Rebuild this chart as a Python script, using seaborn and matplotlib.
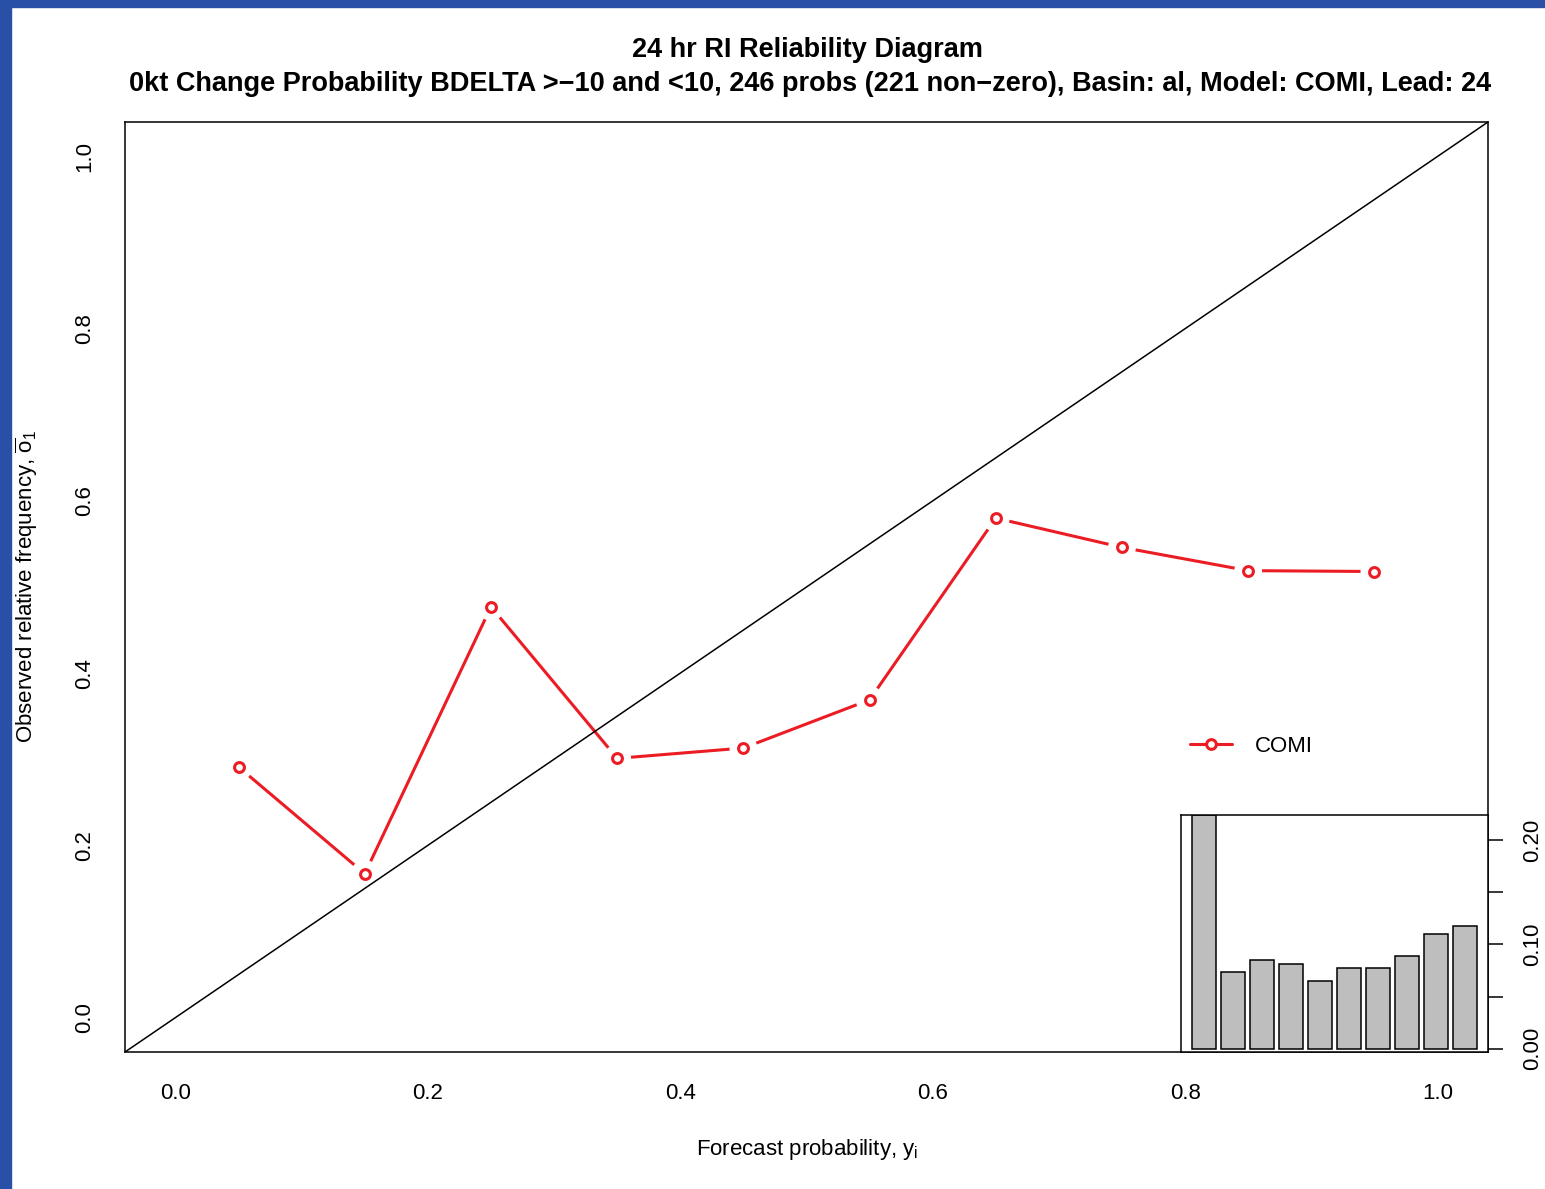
import matplotlib
matplotlib.use("Agg")
import matplotlib.pyplot as plt
import seaborn as sns
import pandas as pd
from matplotlib.lines import Line2D
from matplotlib.patches import Rectangle

# ---- data -----------------------------------------------------------------
fcst_prob = [0.05, 0.15, 0.25, 0.35, 0.45, 0.55, 0.65, 0.75, 0.85, 0.95]
obs_freq = [0.291, 0.167, 0.477, 0.301, 0.313, 0.369, 0.580, 0.546, 0.519, 0.518]
bin_counts = [55, 18, 21, 20, 16, 19, 19, 22, 27, 29]
n_total = 246
main_ticks = [0.0, 0.2, 0.4, 0.6, 0.8, 1.0]
main_tick_labels = ["0.0", "0.2", "0.4", "0.6", "0.8", "1.0"]
hist_ticks = [0.0, 0.05, 0.10, 0.15, 0.20]
hist_tick_labels = ["0.00", "", "0.10", "", "0.20"]
model_name = "COMI"
title_1 = "24 hr RI Reliability Diagram"
title_2 = ("0kt Change Probability BDELTA >\u221210 and <10, 246 probs "
           "(221 non\u2212zero), Basin: al, Model: COMI, Lead: 24")

# ---- style ----------------------------------------------------------------
sns.set_style("white")
plt.rcParams["font.family"] = ["Liberation Sans", "DejaVu Sans"]
plt.rcParams["mathtext.fontset"] = "custom"
plt.rcParams["mathtext.rm"] = "Liberation Sans"
plt.rcParams["mathtext.it"] = "Liberation Sans:italic"
plt.rcParams["axes.linewidth"] = 1.1
plt.rcParams["text.color"] = "black"
plt.rcParams["axes.labelcolor"] = "black"
plt.rcParams["xtick.color"] = "black"
plt.rcParams["ytick.color"] = "black"

RED = "#EC1C24"
GREY = "#BEBEBE"
BLUE = "#2750A6"
FS = 16

W, H = 1545, 1189
fig = plt.figure(figsize=(W / 100, H / 100), dpi=100)


def fx(px):
    return px / W


def fy(py):
    return 1 - py / H


# window border strips
fig.patches.append(Rectangle((0, fy(7)), 1, 7 / H, transform=fig.transFigure,
                             color=BLUE, zorder=10))
fig.patches.append(Rectangle((0, 0), fx(11), 1, transform=fig.transFigure,
                             color=BLUE, zorder=10))

# ---- main reliability axes ------------------------------------------------
ax = fig.add_axes([fx(125), fy(1052), fx(1488) - fx(125), fy(122) - fy(1052)])
ax.set_xlim(-0.04, 1.04)
ax.set_ylim(-0.04, 1.04)

df = pd.DataFrame({"prob": fcst_prob, "obs": obs_freq})
sns.lineplot(data=df, x="prob", y="obs", color=RED, linewidth=2.2,
             sort=False, ax=ax, zorder=2)
# white halos leave gaps in the line around each point
sns.scatterplot(data=df, x="prob", y="obs", s=400, color="white",
                edgecolor="none", ax=ax, zorder=3)
ax.axline((0, 0), (1, 1), color="black", linewidth=1.1, zorder=3.5)
sns.scatterplot(data=df, x="prob", y="obs", s=50, marker="o",
                facecolor="white", edgecolor=RED, linewidth=2.2, ax=ax, zorder=4)

ax.set_xticks(main_ticks)
ax.set_xticklabels(main_tick_labels)
ax.set_yticks(main_ticks)
ax.set_yticklabels(main_tick_labels, rotation=90, va="center")
ax.tick_params(axis="both", direction="out", length=10.5, width=1.1,
               labelsize=FS, color="black", labelcolor="black")
ax.tick_params(axis="x", pad=12)
ax.tick_params(axis="y", pad=11)
ax.set_xlabel("")
ax.set_ylabel("")
for sp in ax.spines.values():
    sp.set_color("black")
    sp.set_linewidth(1.1)

legend_handle = Line2D([], [], color=RED, linewidth=2.2, marker="o",
                       markersize=7, markerfacecolor="white",
                       markeredgecolor=RED, markeredgewidth=2.2)
leg = fig.legend([legend_handle], [model_name], loc="center left",
                 bbox_to_anchor=(fx(1190), fy(746)), frameon=False, fontsize=FS,
                 handlelength=1.89, handletextpad=1.04, borderpad=0,
                 borderaxespad=0)
for t in leg.get_texts():
    t.set_color("black")

# ---- inset histogram of forecast frequencies ------------------------------
rel_freq = [c / n_total for c in bin_counts]
ax_in = fig.add_axes([fx(1181), fy(1052), fx(1488) - fx(1181), fy(814.5) - fy(1052)])
hist_df = pd.DataFrame({"bin": [f"{p:.2f}" for p in fcst_prob], "freq": rel_freq})
sns.barplot(data=hist_df, x="bin", y="freq", color=GREY, saturation=1,
            width=1 / 1.2, edgecolor="black", linewidth=1.1, errorbar=None,
            ax=ax_in)
ax_in.set_facecolor("white")
ax_in.set_xlim(-0.81, 9.81)
ax_in.set_ylim(-0.003, 0.2245)
ax_in.set_xticks([])
ax_in.set_xlabel("")
ax_in.set_ylabel("")
ax_in.yaxis.tick_right()
ax_in.set_yticks(hist_ticks)
ax_in.set_yticklabels(hist_tick_labels, rotation=90, va="center")
ax_in.tick_params(axis="y", direction="out", length=10.5, width=1.1,
                  labelsize=FS, pad=14, right=True, left=False,
                  color="black", labelcolor="black")
for sp in ax_in.spines.values():
    sp.set_color("black")
    sp.set_linewidth(1.1)

# ---- titles and axis labels -----------------------------------------------
fig.text(fx(807), fy(50), title_1, ha="center", va="center",
         fontsize=19.5, fontweight="bold", color="black")
fig.text(fx(810), fy(84), title_2, ha="center", va="center",
         fontsize=19.5, fontweight="bold", color="black")
fig.text(fx(807), fy(1149), r"Forecast probability, $\mathrm{y}_\mathrm{i}$",
         ha="center", va="center", fontsize=FS, color="black")
fig.text(fx(13), fy(587), r"Observed relative frequency, $\overline{\mathrm{o}}_1$",
         ha="left", va="center", rotation=90, fontsize=FS, color="black")

fig.savefig("out.png", dpi=100, facecolor="white")
